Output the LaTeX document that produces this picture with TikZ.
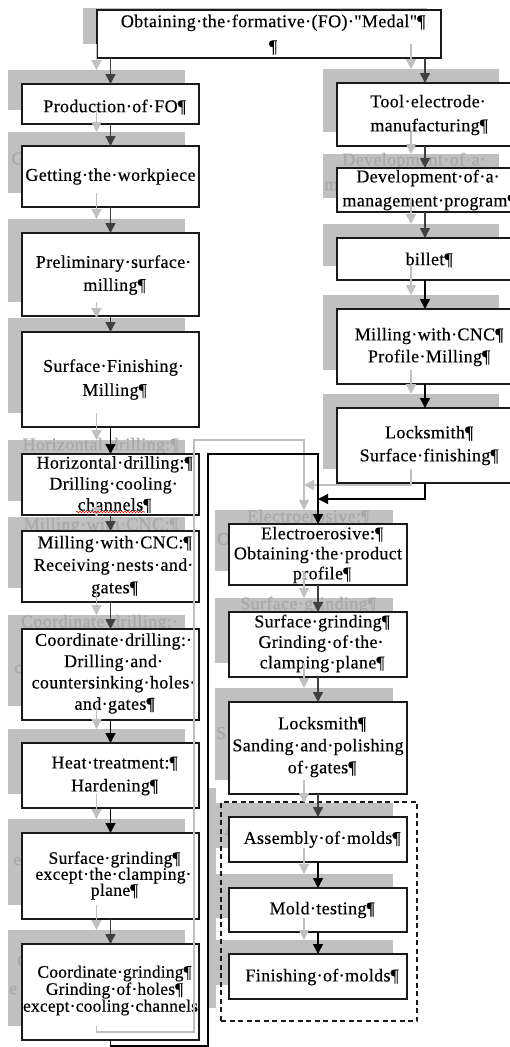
\documentclass[tikz,border=0pt]{standalone}
\usepackage{fontspec}
\newfontfamily\ls{Liberation Serif}[LetterSpace=2,FakeBold=0.4]
\newfontfamily\nls{Liberation Serif}[LetterSpace=1,FakeBold=0.4]
\usetikzlibrary{arrows.meta,decorations.pathmorphing}
\pgfdeclarelayer{bg}
\pgfsetlayers{bg,main}
\definecolor{ghost}{HTML}{C0C0C0}
\definecolor{ghosttxt}{HTML}{A8A8A8}
\definecolor{dk}{HTML}{404040}
\definecolor{bord}{HTML}{1A1A1A}
\newcommand\pil{\rlap{¶}}
\newcommand\tdot{\rlap{·}}
\newcommand\mf{\ls\fontsize{18}{22}\selectfont}
\tikzset{
  box/.style={draw=bord, line width=1.4pt, fill=white, inner sep=0pt, outer sep=0pt, rectangle},
  gbox/.style={fill=ghost, draw=none, inner sep=0pt, outer sep=0pt, rectangle},
  btext/.style={text=black, align=center, inner sep=0pt},
  gtext/.style={text=ghosttxt, align=center, inner sep=0pt, font=\mf},
  gfrag/.style={text=ghosttxt, anchor=west, inner sep=0pt, font=\mf},
  arr/.style={line width=1.5pt, draw=#1, -{Triangle[width=10pt,length=10pt]}},
  arr/.default=black,
  garr/.style={line width=1.5pt, draw=ghost, -{Triangle[width=10pt,length=10pt]}},
  grp/.style={draw=bord, line width=1.1pt, dash pattern=on 5pt off 3.5pt, inner sep=0pt, outer sep=0pt, rectangle}
}
% #1 name, #2 x1, #3 y1, #4 x2, #5 y2, #6 font, #7 text, #8 text dy
\newcommand\stage[8]{%
  \begin{pgfonlayer}{bg}
    \node[gbox,minimum width={#4-#2},minimum height={#5-#3}] (g#1) at ({(#2+#4)/2-14},{(#3+#5)/2-14}) {};
  \end{pgfonlayer}
  \node[box,minimum width={#4-#2},minimum height={#5-#3}] (#1) at ({(#2+#4)/2},{(#3+#5)/2}) {};
  \node[btext,font={#6}] (t#1) at ({(#2+#4)/2},{(#3+#5)/2+#8}) {#7};
}
\begin{document}
\begin{tikzpicture}[x=1pt,y=-1pt]
\useasboundingbox (0,0) rectangle (510,1047);
\clip (0,0) rectangle (510,1047);
% ghost strip, top ghost and visible ghost texts
\begin{pgfonlayer}{bg}
  \node[gbox,minimum width=9,minimum height=220] (gstrip) at (211.5,897.5) {};
  \node[gbox,minimum width=344,minimum height=36] (gb1) at (255,26) {};
\end{pgfonlayer}
\node[box,minimum width=344,minimum height=48] (b1) at (269,34) {};
\node[btext,font={\ls\fontsize{18}{25}\selectfont}] (tb1) at (269,34.5) {Obtaining·the·formative·(FO)·"Medal"\pil\\\pil};
% left column
\stage{b2}{22}{84}{199}{124}{\mf}{Production·of·FO\pil}{3}
\stage{b3}{22}{146}{199}{207}{\mf}{Getting·the·workpiece}{0}
\stage{b4}{22}{233}{199}{316}{\ls\fontsize{18}{23}\selectfont}{Preliminary·surface\tdot\\milling\pil}{0.5}
\stage{b5}{22}{332}{199}{427}{\ls\fontsize{18}{24}\selectfont}{Surface·Finishing\tdot\\Milling\pil}{0}
\stage{b6}{22}{454}{199}{515}{\ls\fontsize{18}{21}\selectfont}{Horizontal·drilling:\pil\\Drilling·cooling\tdot\\channels\pil}{0}
\stage{b7}{22}{531}{199}{602}{\ls\fontsize{18}{22.5}\selectfont}{Milling·with·CNC:\pil\\Receiving·nests·and\tdot\\gates\pil}{0}
\stage{b8}{22}{629}{199}{720}{\ls\fontsize{18}{21.3}\selectfont}{Coordinate·drilling:\tdot\\Drilling·and\tdot\\countersinking·holes\tdot\\and·gates\pil}{-1}
\stage{b9}{22}{743}{199}{808}{\ls\fontsize{18}{23}\selectfont}{Heat·treatment:\pil\\Hardening\pil}{0.5}
\stage{b10}{22}{833}{199}{919}{\ls\fontsize{17.5}{16}\selectfont}{Surface·grinding\pil\\except·the·clamping\tdot\\plane\pil}{-0.5}
\stage{b11}{22}{944}{199}{1040}{\nls\fontsize{17.5}{14.5}\selectfont}{Coordinate·grinding\pil\\Grinding·of·holes\pil\\except·cooling·channels}{-1.5}
% right column
\stage{b12}{337}{83}{513}{146}{\ls\fontsize{18}{24}\selectfont}{Tool·electrode\tdot\\manufacturing\pil}{0.5}
\stage{b13}{337}{168}{513}{212}{\ls\fontsize{18}{24}\selectfont}{Development·of·a\tdot\\management·program\pil}{0}
\stage{b14}{337}{238}{513}{280}{\mf}{billet\pil}{1}
\stage{b15}{337}{309}{513}{384}{\ls\fontsize{18}{22}\selectfont}{Milling·with·CNC\pil\\Profile·Milling\pil}{0.5}
\stage{b16}{337}{408}{513}{483}{\ls\fontsize{18}{23}\selectfont}{Locksmith\pil\\Surface·finishing\pil}{0}
% middle column
\stage{b17}{229}{524}{407}{585}{\ls\fontsize{18}{20}\selectfont}{Electroerosive:\pil\\Obtaining·the·product\\profile\pil}{0.5}
\stage{b18}{229}{612}{407}{677}{\ls\fontsize{18}{20.5}\selectfont}{Surface·grinding\pil\\Grinding·of·the\tdot\\clamping·plane\pil}{-1}
\stage{b19}{229}{702}{407}{794}{\ls\fontsize{18}{22}\selectfont}{Locksmith\pil\\Sanding·and·polishing\\of·gates\pil}{-1}
\stage{b20}{229}{817}{407}{862}{\mf}{Assembly·of·molds\pil}{0}
\stage{b21}{229}{888}{407}{932}{\mf}{Mold·testing\pil}{0}
\stage{b22}{229}{954}{407}{999}{\mf}{Finishing·of·molds\pil}{0.5}
% visible ghost texts (behind the boxes)
\begin{pgfonlayer}{bg}
  \node[gtext] (gt3) at (96.5,160) {Getting·the·workpiece};
  \node[gtext] (gt6) at (96.5,446) {Horizontal·drilling:\pil};
  \node[gtext] (gt7) at (96.5,526) {Milling·with·CNC:\pil};
  \node[gtext] (gt8) at (96.5,623) {Coordinate·drilling:\tdot};
  \node[gfrag] (gt8b) at (14,669) {c};
  \node[gfrag] (gt10) at (13,861) {e};
  \node[gfrag] (gt11a) at (17,961) {C};
  \node[gfrag] (gt11b) at (9,990) {e};
  \node[gtext] (gt13) at (411,161) {Development·of·a\tdot};
  \node[gfrag] (gt13b) at (324,186) {m};
  \node[gtext] (gt17) at (304,517) {Electroerosive:\pil};
  \node[gfrag] (gt17b) at (217,539) {O};
  \node[gtext] (gt18) at (304,605) {Surface·grinding\pil};
  \node[gfrag] (gt19) at (216,733) {S};
  \node[gfrag] (gt20) at (224,829) {A};
\end{pgfonlayer}
% dashed group
\node[grp,minimum width=196,minimum height=219] (grp) at (319,911.5) {};
% ghost arrows
\draw[garr] (gb1.south -| gb2.north) -- (gb2.north);
\draw[garr] (gb1.south -| gb12.north) -- (gb12.north);
\foreach \a/\b in {b2/b3,b3/b4,b4/b5,b5/b6,b6/b7,b7/b8,b8/b9,b9/b10,b10/b11,b12/b13,b13/b14,b14/b15,b15/b16,b17/b18,b18/b19,b19/b20,b20/b21,b21/b22}
  \draw[garr] (g\a.south) -- (g\b.north);
\coordinate (glA) at (194,1032);
\coordinate (glB) at (194,440);
\coordinate (grA) at (304,485);
\draw[garr] (gb11.south) |- (glA) -- (glB) -| (gb17.north);
\draw[garr] (gb16.south) |- (grA);
% black arrows
\draw[arr=dk] (b1.south -| b2.north) -- (b2.north);
\draw[arr=dk] (b1.south -| b12.north) -- (b12.north);
\foreach \a/\b in {b2/b3,b3/b4,b4/b5,b6/b7,b7/b8,b10/b11,b12/b13,b13/b14,b17/b18,b18/b19,b19/b20}
  \draw[arr=dk] (\a.south) -- (\b.north);
\foreach \a/\b in {b5/b6,b8/b9,b9/b10,b14/b15,b15/b16,b20/b21,b21/b22}
  \draw[arr] (\a.south) -- (\b.north);
\coordinate (lA) at (208,1046);
\coordinate (lB) at (208,454);
\coordinate (rA) at (318,499);
\draw[arr] (b11.south) |- (lA) -- (lB) -| (b17.north);
\draw[arr] (b16.south) |- (rA);
% spelling underline
\draw[red!85!black, line width=0.6pt, decorate, decoration={snake, amplitude=0.7pt, segment length=3pt}] (76,512) -- (145,512);
\end{tikzpicture}
\end{document}
